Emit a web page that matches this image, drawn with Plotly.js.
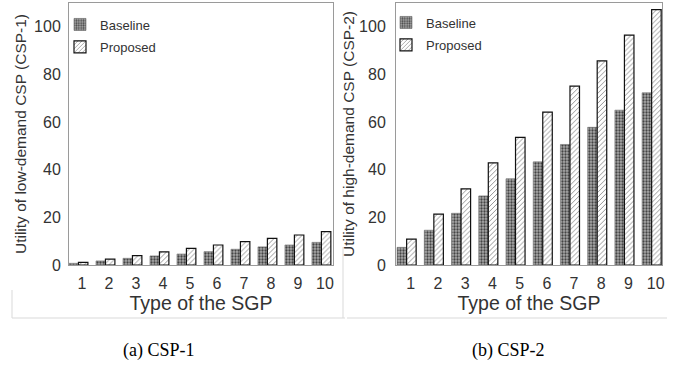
<!DOCTYPE html>
<html>
<head>
<meta charset="utf-8">
<script src="https://cdn.plot.ly/plotly-3.0.1.min.js"></script>
<style>html,body{margin:0;padding:0;background:#fff;}#chart{width:688px;height:367px;}</style>
</head>
<body>
<div id="chart"></div>
<script>
const sgpTypes = [1, 2, 3, 4, 5, 6, 7, 8, 9, 10];
const csp1Baseline = [0.7, 1.7, 2.8, 3.8, 4.6, 5.6, 6.6, 7.6, 8.4, 9.5];
const csp1Proposed = [1.1, 2.5, 3.9, 5.5, 7.0, 8.4, 9.8, 11.2, 12.6, 14.0];
const csp2Baseline = [7.4, 14.6, 21.7, 29.0, 36.2, 43.3, 50.6, 57.8, 65.0, 72.3];
const csp2Proposed = [10.9, 21.4, 32.0, 42.9, 53.6, 64.2, 75.1, 85.7, 96.5, 107.2];
const seriesNames = ['Baseline', 'Proposed'];
const yTitles = ['Utility of low-demand CSP (CSP-1)', 'Utility of high-demand CSP (CSP-2)'];
const xTitle = 'Type of the SGP';
const captions = ['(a) CSP-1', '(b) CSP-2'];

const W = 688, H = 367;
const px = v => v / W;
const py = v => 1 - v / H;
const FONT = 'Arial, "Liberation Sans", sans-serif';

const baseStyle = {
  color: '#a0a0a0',
  line: {color: '#6a6a6a', width: 0.6},
  pattern: {shape: '.', fgcolor: '#444444', bgcolor: '#ababab', size: 3, solidity: 0.45}
};
const propStyle = {
  color: '#ffffff',
  line: {color: '#111111', width: 1.2},
  pattern: {shape: '/', fgcolor: '#777777', bgcolor: '#ffffff', size: 3.5, solidity: 0.22}
};

function bar(x, y, name, xa, ya, style, offset, legend, group) {
  return {type: 'bar', x: x, y: y, name: name, xaxis: xa, yaxis: ya,
    width: 0.35, offset: offset, marker: style, legend: legend, legendgroup: group,
    hoverinfo: 'x+y'};
}

const data = [
  bar(sgpTypes, csp1Baseline, seriesNames[0], 'x', 'y', baseStyle, -0.48, 'legend', 'a1'),
  bar(sgpTypes, csp1Proposed, seriesNames[1], 'x', 'y', propStyle, -0.13, 'legend', 'a2'),
  bar(sgpTypes, csp2Baseline, seriesNames[0], 'x2', 'y2', baseStyle, -0.5, 'legend2', 'b1'),
  bar(sgpTypes, csp2Proposed, seriesNames[1], 'x2', 'y2', propStyle, -0.15, 'legend2', 'b2')
];

function xAxis(domain, range, anchor) {
  return {domain: domain, range: range, anchor: anchor, tickvals: sgpTypes,
    showline: true, linecolor: '#9a9a9a', linewidth: 1, mirror: true,
    showgrid: false, zeroline: false, ticks: '', ticklabelstandoff: 4,
    tickfont: {family: FONT, size: 16, color: '#333'},
    title: {text: xTitle, font: {family: FONT, size: 19.5, color: '#333'}, standoff: 4}};
}
function yAxis(domain, anchor, standoff, title, tstand) {
  return {domain: domain, range: [0, 110], anchor: anchor, tickvals: [0, 20, 40, 60, 80, 100],
    showline: true, linecolor: '#9a9a9a', linewidth: 1, mirror: true,
    showgrid: false, zeroline: false, ticks: '', ticklabelstandoff: standoff,
    tickfont: {family: FONT, size: 16, color: '#333'},
    title: {text: title, font: {family: FONT, size: 15.5, color: '#333'}, standoff: tstand}};
}

const yDom = [py(265), py(3)];
const lineCol = '#d9d9d9';
function seg(x0, y0, x1, y1) {
  return {type: 'line', xref: 'paper', yref: 'paper', x0: px(x0), y0: py(y0), x1: px(x1), y1: py(y1),
    line: {color: lineCol, width: 1}};
}

const layout = {
  width: W, height: H,
  margin: {l: 0, r: 0, t: 0, b: 0},
  paper_bgcolor: '#fff', plot_bgcolor: '#fff',
  barmode: 'overlay',
  showlegend: true,
  xaxis: xAxis([px(69), px(333)], [0.52, 10.3], 'y'),
  yaxis: yAxis(yDom, 'x', 4, yTitles[0], 3),
  xaxis2: xAxis([px(396), px(662)], [0.46, 10.23], 'y2'),
  yaxis2: yAxis(yDom, 'x2', 6, yTitles[1], 0),
  legend: {x: px(60), y: py(9.5), xanchor: 'left', yanchor: 'top', bgcolor: 'rgba(0,0,0,0)',
    traceorder: 'grouped', tracegroupgap: 2.5, font: {family: FONT, size: 13, color: '#333'}},
  legend2: {x: px(386), y: py(7.5), xanchor: 'left', yanchor: 'top', bgcolor: 'rgba(0,0,0,0)',
    traceorder: 'grouped', tracegroupgap: 2.5, font: {family: FONT, size: 13, color: '#333'}},
  shapes: [
    seg(12, 318, 345, 318),
    seg(12, 290, 12, 318),
    seg(343, 247, 343, 318),
    seg(347, 318, 667, 318)
  ],
  annotations: [
    {text: captions[0], xref: 'paper', yref: 'paper', x: px(159), y: py(350), showarrow: false,
      xanchor: 'center', yanchor: 'middle', font: {family: '"Liberation Serif", "Times New Roman", serif', size: 18, color: '#000'}},
    {text: captions[1], xref: 'paper', yref: 'paper', x: px(508), y: py(350), showarrow: false,
      xanchor: 'center', yanchor: 'middle', font: {family: '"Liberation Serif", "Times New Roman", serif', size: 18, color: '#000'}}
  ]
};

Plotly.newPlot('chart', data, layout, {staticPlot: true, displayModeBar: false});
</script>
</body>
</html>
